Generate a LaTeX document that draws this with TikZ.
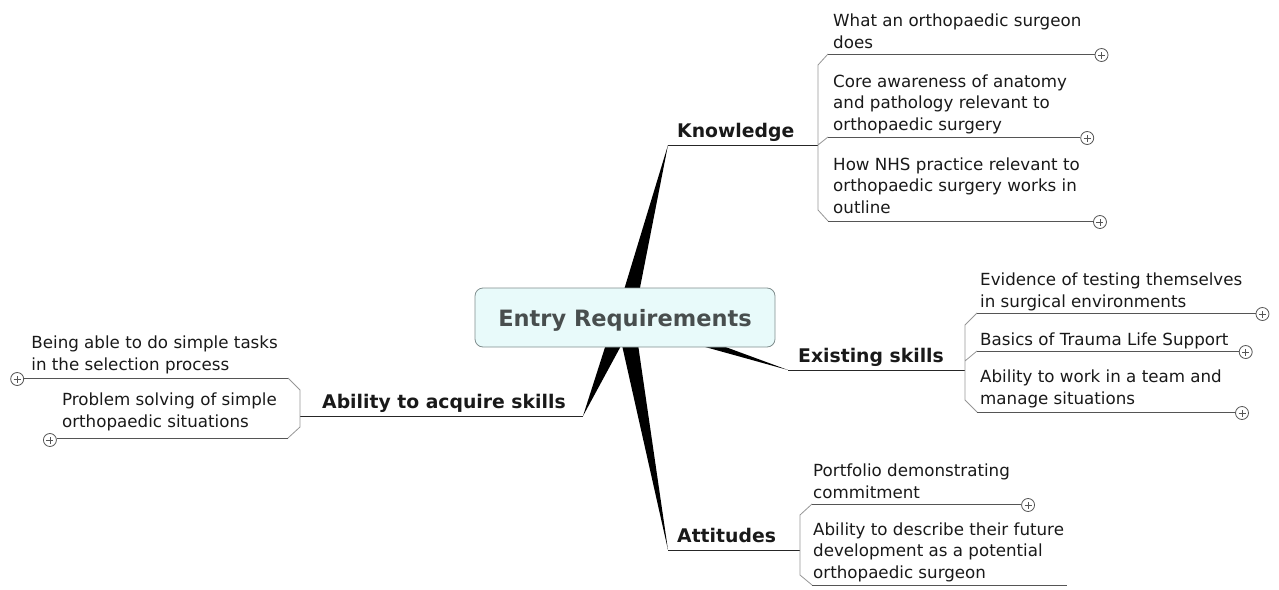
\documentclass[tikz,border=0pt]{standalone}
\usepackage{fontspec}
\setmainfont{DejaVu Sans}
\usetikzlibrary{calc,backgrounds}

\definecolor{rootfill}{RGB}{232,250,250}
\definecolor{rootdraw}{RGB}{128,142,142}
\definecolor{roottext}{RGB}{72,78,78}
\definecolor{ink}{RGB}{25,25,25}
\definecolor{twiggray}{RGB}{85,85,85}
\definecolor{bracketgray}{RGB}{150,150,150}

\tikzset{
  root/.style={draw=rootdraw, fill=rootfill, rounded corners=8pt, line width=.8pt,
    minimum width=300pt, minimum height=59pt, text depth=0pt,
    font=\fontsize{22.5}{27}\selectfont\bfseries, text=roottext},
  branch/.style={anchor=base west, inner sep=0pt, text=ink,
    font=\fontsize{18.8}{22}\selectfont\bfseries},
  leaf/.style={anchor=base west, inner sep=0pt, align=left, text=ink,
    font=\fontsize{16.7}{21.5}\selectfont},
  leafl/.style={leaf, anchor=base east},
  stem/.style={draw=black!85, line width=.9pt},
  twig/.style={draw=twiggray, line width=.8pt},
  bracket/.style={draw=bracketgray, line width=.8pt},
  fold/.style={circle, draw=twiggray, fill=white, line width=.8pt, inner sep=0pt,
    minimum size=13pt,
    path picture={\draw[twiggray, line width=.8pt]
      ([xshift=-3.5pt]path picture bounding box.center) -- ([xshift=3.5pt]path picture bounding box.center)
      ([yshift=-3.5pt]path picture bounding box.center) -- ([yshift=3.5pt]path picture bounding box.center);}},
}

\begin{document}
\begin{tikzpicture}[x=1pt,y=-1pt]
    \useasboundingbox (0,0) rectangle (1279,589);

    % centre
    \node[root] (root) at (625,317.5) {Entry Requirements};

    % main branches
    \coordinate (ktip) at (668,145);
    \coordinate (etip) at (788,370);
    \coordinate (btip) at (583,416);
    \coordinate (atip) at (668,550);
    \coordinate (kj) at (818,145);
    \coordinate (ej) at (965,370);
    \coordinate (bj) at (300,416);
    \coordinate (aj) at (800,550);

    \node[branch] (know) at (677,137) {Knowledge};
    \node[branch] (skil) at (798,362) {Existing skills};
    \node[branch] (abil) at (322,408) {Ability to acquire skills};
    \node[branch] (atti) at (677,542) {Attitudes};

    \begin{pgfonlayer}{background}
      \foreach \t/\w in {ktip/9, etip/7, btip/10, atip/9}
        \fill ($(root.center)!\w pt!90:(\t)$) -- (\t) -- ($(root.center)!\w pt!-90:(\t)$) -- cycle;
    \end{pgfonlayer}

    \draw[stem] (ktip) -- (kj);
    \draw[stem] (etip) -- (ej);
    \draw[stem] (btip) -- (bj);
    \draw[stem] (atip) -- (aj);

    % Knowledge
    \node[leaf] (k1) at (833,48) {What an orthopaedic surgeon\\does};
    \node[leaf] (k2) at (833,130) {Core awareness of anatomy\\and pathology relevant to\\orthopaedic surgery};
    \node[leaf] (k3) at (833,213) {How NHS practice relevant to\\orthopaedic surgery works in\\outline};
    \coordinate (kb1) at (828,54);
    \coordinate (kb2) at (828,137);
    \coordinate (kb3) at (828,221);
    \node[fold] (k1x) at ($(k1.east |- kb1)+(20,1)$) {};
    \node[fold] (k2x) at ($(k2.east |- kb2)+(20,1)$) {};
    \node[fold] (k3x) at ($(k3.east |- kb3)+(20,1)$) {};
    \draw[bracket] (kb1) -- (818,65) -- (818,210) -- (kb3) (kj) -- (kb2);
    \draw[twig] (kb1) -- (kb1 -| k1x.west);
    \draw[twig] (kb2) -- (kb2 -| k2x.west);
    \draw[twig] (kb3) -- (kb3 -| k3x.west);

    % Existing skills
    \node[leaf] (e1) at (980,307) {Evidence of testing themselves\\in surgical environments};
    \node[leaf] (e2) at (980,345) {Basics of Trauma Life Support};
    \node[leaf] (e3) at (980,404) {Ability to work in a team and\\manage situations};
    \coordinate (eb1) at (977,313);
    \coordinate (eb2) at (977,351);
    \coordinate (eb3) at (977,412);
    \node[fold] (e1x) at ($(e1.east |- eb1)+(20,1)$) {};
    \node[fold] (e2x) at ($(e2.east |- eb2)+(17,1)$) {};
    \node[fold] (e3x) at ($(e3.east |- eb3)+(20,1)$) {};
    \draw[bracket] (eb1) -- (965,325) -- (965,400) -- (eb3) (965,361) -- (eb2);
    \draw[twig] (eb1) -- (eb1 -| e1x.west);
    \draw[twig] (eb2) -- (eb2 -| e2x.west);
    \draw[twig] (eb3) -- (eb3 -| e3x.west);

    % Ability to acquire skills
    \node[leafl] (b1) at (278,370) {Being able to do simple tasks\\in the selection process};
    \node[leafl] (b2) at (277,427) {Problem solving of simple\\orthopaedic situations};
    \coordinate (bb1) at (288,378);
    \coordinate (bb2) at (288,438);
    \node[fold] (b1x) at ($(b1.west |- bb1)+(-14,1)$) {};
    \node[fold] (b2x) at ($(b2.west |- bb2)+(-12,2)$) {};
    \draw[bracket] (bb1) -- (300,390) -- (300,427) -- (bb2);
    \draw[twig] (bb1) -- (bb1 -| b1x.east);
    \draw[twig] (bb2) -- (bb2 -| b2x.east);

    % Attitudes
    \node[leaf] (a1) at (813,498) {Portfolio demonstrating\\commitment};
    \node[leaf] (a2) at (813,578) {Ability to describe their future\\development as a potential\\orthopaedic surgeon};
    \coordinate (ab1) at (812,504);
    \coordinate (ab2) at (812,585);
    \node[fold] (a1x) at ($(a1.east |- ab1)+(18,1)$) {};
    \draw[bracket] (ab1) -- (800,515) -- (800,575) -- (ab2);
    \draw[twig] (ab1) -- (ab1 -| a1x.west);
    \draw[twig] (ab2) -- ($(ab2 -| a2.east)+(3,0)$);
\end{tikzpicture}
\end{document}
